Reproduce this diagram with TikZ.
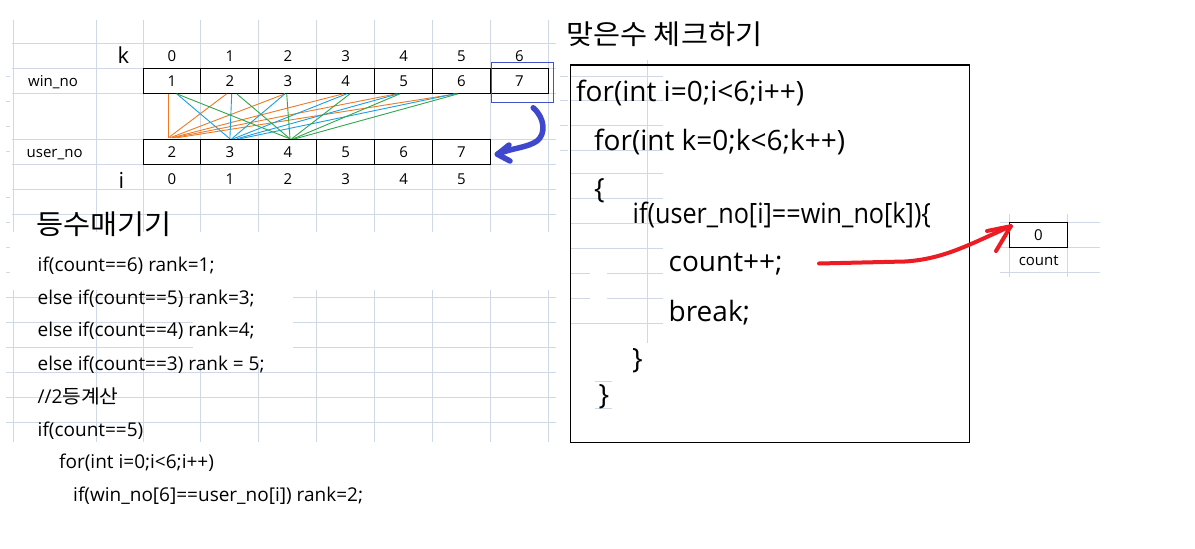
\documentclass[tikz,border=0pt]{standalone}
\usepackage{fontspec}
\setmainfont{Open Sans}
\newfontfamily\kr{Noto Sans CJK KR}[FakeStretch=1.07]
\definecolor{gridc}{HTML}{D0D7E5}
\definecolor{orangeL}{HTML}{F07A22}
\definecolor{blueL}{HTML}{1AA0E0}
\definecolor{greenL}{HTML}{2EA84A}
\definecolor{paintblue}{HTML}{3F48CC}
\definecolor{paintred}{HTML}{ED1C24}
\definecolor{hlblue}{HTML}{4453C4}
\tikzset{
  gridline/.style={draw=gridc, line width=0.9pt},
  cellbox/.style={draw=black, line width=1pt, minimum width=57.9pt, minimum height=25pt, inner sep=0pt, font=\fontsize{15}{15}\selectfont},
  lbl/.style={inner sep=0pt, font=\fontsize{15}{15}\selectfont},
  biglbl/.style={inner sep=0pt, anchor=base west, font=\fontsize{22}{22}\selectfont},
  code/.style={anchor=base west, inner sep=0pt, font=\fontsize{28}{28}\selectfont},
  lcode/.style={anchor=base west, inner sep=0pt, font=\fontsize{19}{19}\selectfont},
  title/.style={anchor=base west, inner sep=0pt, font=\fontsize{27.5}{27.5}\selectfont\kr},
  oline/.style={draw=orangeL, line width=0.9pt},
  bline/.style={draw=blueL, line width=0.9pt},
  gline/.style={draw=greenL, line width=0.9pt},
  redstroke/.style={draw=paintred, line width=4pt, line cap=round, line join=round},
  bluestroke/.style={draw=paintblue, line width=5.5pt, line cap=round, line join=round},
}
\begin{document}
\begin{tikzpicture}[x=1pt,y=-1pt]
\useasboundingbox[fill=white] (0,0) rectangle (1195,549);

% ---------- spreadsheet grid (left, upper) ----------
\foreach \x in {13,96.7,143,200.9,258.8,316.7,374.6,432.5,490.4,548.3}
  \draw[gridline] (\x,20) -- (\x,232);
\foreach \y in {43.3,68.3,93.3,139.3,164.3,189.3,214.3}
  \draw[gridline] (12,\y) -- (556,\y);
% ---------- grid (left, lower) ----------
\foreach \x in {13,96.7,143,200.9,258.8,316.7,374.6,432.5,490.4,548.3}
  \draw[gridline] (\x,290) -- (\x,442);
\foreach \y in {297.3,322.3,347.3,372.3,397.3,422.3}
  \draw[gridline] (6,\y) -- (556,\y);
\fill[white] (193,289) rectangle (293,360);
% row ticks
\foreach \y in {76.7,101,126.7,151.7,197,222,247,272}
  \draw[gridline] (6,\y) -- (10,\y);
% grid near code box
\foreach \y in {76.7,100,125,150}
  \draw[gridline] (560,\y) -- (568,\y);
\foreach \y in {76.7,100,125,150,173.3,198.3,223.3,248.3,323.3}
  \draw[gridline] (570,\y) -- (663,\y);
\foreach \y in {273.3,298.3}{
  \draw[gridline] (570,\y) -- (590,\y);
  \draw[gridline] (606.7,\y) -- (663,\y);}
\draw[gridline] (647.3,60) -- (647.3,343);
\draw[gridline] (595,381.7) -- (611.7,381.7);
\draw[gridline] (595,408.3) -- (611.7,408.3);
% grid near count
\foreach \x in {1009.3,1067.3}
  \draw[gridline] (\x,214) -- (\x,277);
\foreach \y in {222.7,247.3,272.3}
  \draw[gridline] (1000,\y) -- (1100,\y);

% ---------- arrays ----------
\node[biglbl] (klbl) at (117.5,63.3) {k};
\node[biglbl] (ilbl) at (118.5,188.3) {i};
\node[lbl, anchor=base west] (winlbl) at (28,86.7) {win\_no};
\node[lbl, anchor=base west] (userlbl) at (26.5,157.7) {user\_no};

\foreach \k/\v in {0/1,1/2,2/3,3/4,4/5,5/6,6/7}{
  \node[cellbox] (w\k) at ({172+57.9*\k},80.8) {\v};
  \node[lbl] (k\k) at ({172+57.9*\k},56.5) {\k};
}
\foreach \k/\v in {0/2,1/3,2/4,3/5,4/6,5/7}{
  \node[cellbox] (u\k) at ({172+57.9*\k},151.8) {\v};
  \node[lbl] (i\k) at ({172+57.9*\k},179.5) {\k};
}
\node[draw=hlblue, line width=1.1pt, minimum width=62.3pt, minimum height=40.4pt, inner sep=0pt] (hl) at (522.2,82.5) {};

% comparison lines: user_no[0] (orange)
\foreach \k/\s/\e in {0/-3.7/-3.7,1/-3.2/-3.7,2/-2.8/-2,3/-2.4/-0.3,4/-6.9/1.3,5/-4.8/4.7}
  \draw[oline] ([xshift=\s pt]w\k.south) -- ([xshift=\e pt, yshift=1pt]u0.north);
% user_no[1] (blue)
\foreach \k/\s/\e in {0/4.7/0,1/1.8/0,2/-2.8/1.8,3/1/3.4,4/-5.3/6.8,5/-6.5/10}
  \draw[bline] ([xshift=\s pt]w\k.south) -- ([xshift=\e pt]u1.north);
% user_no[2] (green)
\foreach \k/\s/\e in {0/4.7/2.2,1/6.8/2.2,2/-1.1/2.2,3/4.3/3.9,4/-3.6/5.5,5/-3.2/7.2}
  \draw[gline] ([xshift=\s pt]w\k.south) -- ([xshift=\e pt]u2.north);

% blue hand-drawn arrow
\coordinate (bs) at ([xshift=11pt,yshift=-4.5pt]hl.south);
\coordinate (btip) at ([xshift=6.5pt,yshift=-2.5pt]u5.east);
\draw[bluestroke] (bs) .. controls (545,118) and (546,134) .. (537,141)
  .. controls (527,148) and (511,148) .. (btip);
\draw[bluestroke] (btip) -- (509,145);
\draw[bluestroke] (btip) -- (510,161);

% ---------- left text ----------
\node[title] (t1) at (36.5,234.5) {등수매기기};
\node[lcode] (l1) at (37.5,271) {if(count==6) rank=1;};
\node[lcode] (l2) at (37.5,304.3) {else if(count==5) rank=3;};
\node[lcode] (l3) at (37.5,336.7) {else if(count==4) rank=4;};
\node[lcode] (l4) at (37.5,370) {else if(count==3) rank = 5;};
\node[lcode] (l5) at (37.5,403.3) {//2{\kr 등계산}};
\node[lcode] (l6) at (37.5,436.7) {if(count==5)};
\node[lcode] (l7) at (59,468) {for(int i=0;i<6;i++)};
\node[lcode] (l8) at (73,501.7) {if(win\_no[6]==user\_no[i]) rank=2;};

% ---------- code box ----------
\node[title] (t2) at (566,44.5) {맞은수 체크하기};
\draw[black, line width=1.1pt] (570.3,65) rectangle (969.3,442.3);
\node[code] (c1) at (576,101.5) {for(int i=0;i<6;i++)};
\node[code] (c2) at (594,150) {for(int k=0;k<6;k++)};
\node[code] (c3) at (594,198) {\{};
\node[code] (c4) at (632.5,223.3) {\addfontfeatures{FakeStretch=0.9}if(user\_no[i]==win\_no[k])\{};
\node[code] (c5) at (668.5,271.7) {count++;};
\node[code] (c6) at (668.5,321.7) {break;};
\node[code] (c7) at (632,368) {\}};
\node[code] (c8) at (598.5,404) {\}};

% ---------- count ----------
\node[draw=black, line width=1pt, minimum width=58pt, minimum height=24.6pt, inner sep=0pt, font=\fontsize{15}{15}\selectfont] (cnt) at (1038.3,235) {0};
\node[lbl, anchor=base] (cntlbl) at (1038.7,265.5) {count};

% red hand-drawn arrow
\coordinate (rs) at (819,263.5);
\coordinate (rtip) at ([xshift=2pt,yshift=-4pt]cnt.north west);
\draw[redstroke] (rs) -- (905,261.5) .. controls (945,259) and (972,243) .. (rtip);
\draw[redstroke] (rtip) -- (987,231);
\draw[redstroke] (rtip) -- (996,251);
\end{tikzpicture}
\end{document}
